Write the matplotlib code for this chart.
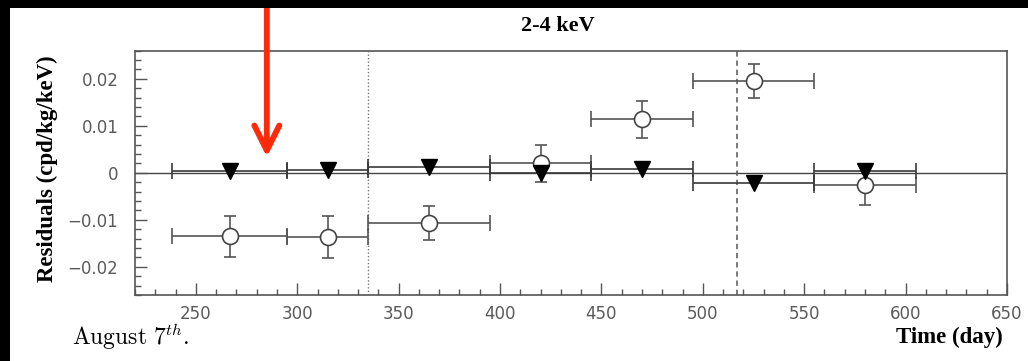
import matplotlib
matplotlib.use("Agg")
import matplotlib.pyplot as plt
from matplotlib.ticker import MultipleLocator, FixedLocator, FuncFormatter
from matplotlib.patches import Rectangle
import numpy as np

# Time bins (days): centres and edges
bin_center = [267, 315, 365, 420, 470, 525, 580]
bin_lo = [238, 295, 335, 395, 445, 495, 555]
bin_hi = [295, 335, 395, 445, 495, 555, 605]

# Open circles: residuals with uncertainties (cpd/kg/keV)
circ_res = [-0.0135, -0.0136, -0.0106, 0.0020, 0.0114, 0.0196, -0.0026]
circ_err = [0.0044, 0.0045, 0.0036, 0.0039, 0.0039, 0.0036, 0.0043]

# Filled triangles: residuals (cpd/kg/keV)
tri_res = [0.0005, 0.0007, 0.0012, 0.0000, 0.0009, -0.0021, 0.0005]

# Reference times marked by vertical lines
t_dotted = 335
t_dashed = 517

x_ticks = [250, 300, 350, 400, 450, 500, 550, 600, 650]
y_ticks = [-0.02, -0.01, 0, 0.01, 0.02]

W, H = 1028, 361
fig = plt.figure(figsize=(W / 100, H / 100), dpi=100)
fig.patch.set_facecolor("white")

# dark frame strips along top and left edges
fig.patches.append(Rectangle((0, 1 - 8 / H), 1, 8 / H, transform=fig.transFigure,
                             facecolor="black", edgecolor="none", zorder=0))
fig.patches.append(Rectangle((0, 0), 10 / W, 1, transform=fig.transFigure,
                             facecolor="black", edgecolor="none", zorder=0))

ax = fig.add_axes([135 / W, 1 - 295 / H, (1007 - 135) / W, (295 - 50.7) / H])
ax.set_xlim(220, 650)
ax.set_ylim(-0.026, 0.026)

gray = "#555555"
for s in ax.spines.values():
    s.set_color(gray)
    s.set_linewidth(1.2)

ax.xaxis.set_major_locator(FixedLocator(x_ticks))
ax.xaxis.set_minor_locator(MultipleLocator(10))
ax.yaxis.set_major_locator(FixedLocator(y_ticks))
ax.yaxis.set_minor_locator(MultipleLocator(0.002))
ax.yaxis.set_major_formatter(FuncFormatter(lambda v, p: "0" if abs(v) < 1e-12 else ("%g" % v).replace("-", "\u2212")))

ax.tick_params(which="both", direction="in", color=gray, width=1.0,
               labelcolor="#5a5a5a", labelsize=12, top=False, right=False)
ax.tick_params(which="major", length=8.5)
ax.tick_params(which="minor", length=4.5)
ax.tick_params(axis="y", which="major", pad=12)
ax.tick_params(axis="x", which="major", pad=7)

# zero line and reference times
ax.axhline(0, color="#444444", lw=1.0, zorder=1)
ax.axvline(t_dotted, color="#777777", lw=1.0, ls=(0, (1, 1.5)), zorder=1)
ax.axvline(t_dashed, color="#555555", lw=1.1, ls=(0, (3.5, 2.5)), zorder=1)

xc = np.array(bin_center, dtype=float)
xlo = xc - np.array(bin_lo)
xhi = np.array(bin_hi) - xc

# open circles: horizontal bin bars then vertical error bars
ax.errorbar(xc, circ_res, xerr=[xlo, xhi], fmt="none", ecolor=gray,
            elinewidth=1.2, capsize=5.8, capthick=1.2, zorder=2)
ax.errorbar(xc, circ_res, yerr=circ_err, fmt="none", ecolor=gray,
            elinewidth=1.2, capsize=4.3, capthick=1.2, zorder=2)
ax.plot(xc, circ_res, "o", ms=11.5, mfc="white", mec="#444444", mew=1.2, zorder=3)

# filled triangles with bin bars
ax.errorbar(xc, tri_res, xerr=[xlo, xhi], fmt="none", ecolor="#3a3a3a",
            elinewidth=1.2, capsize=5.8, capthick=1.2, zorder=4)
ax.plot(xc, tri_res, "v", ms=11.5, color="black", zorder=5)

# labels
serif = ["Liberation Serif", "DejaVu Serif"]
fig.text(558 / W, 1 - 26 / H, "2-4 keV", ha="center", va="center",
         fontsize=16, fontweight="bold", family=serif)
fig.text(47 / W, 1 - 169 / H, "Residuals (cpd/kg/keV)", ha="center", va="center",
         rotation=90, fontsize=16.5, fontweight="bold", family=serif)
fig.text(1003 / W, 1 - 337 / H, "Time (day)", ha="right", va="center",
         fontsize=16.5, fontweight="bold", family=serif)

plt.rcParams["mathtext.fontset"] = "cm"
fig.text(72 / W, 1 - 345 / H, r"$\mathrm{August\ 7}^{th}.$", ha="left", va="baseline",
         fontsize=17, color="black")

# red pointer arrow from the top edge
ax.annotate("", xy=(285, 1 - 157 / H), xytext=(285, 1.0),
            xycoords=("data", "figure fraction"), textcoords=("data", "figure fraction"),
            arrowprops=dict(arrowstyle="->,head_length=0.9,head_width=0.45",
                            color="#ff2a0a", lw=4.2, capstyle="round",
                            joinstyle="round", shrinkA=0, shrinkB=0, mutation_scale=20),
            annotation_clip=False, zorder=10)

fig.savefig("out.png", dpi=100, facecolor=fig.get_facecolor())
